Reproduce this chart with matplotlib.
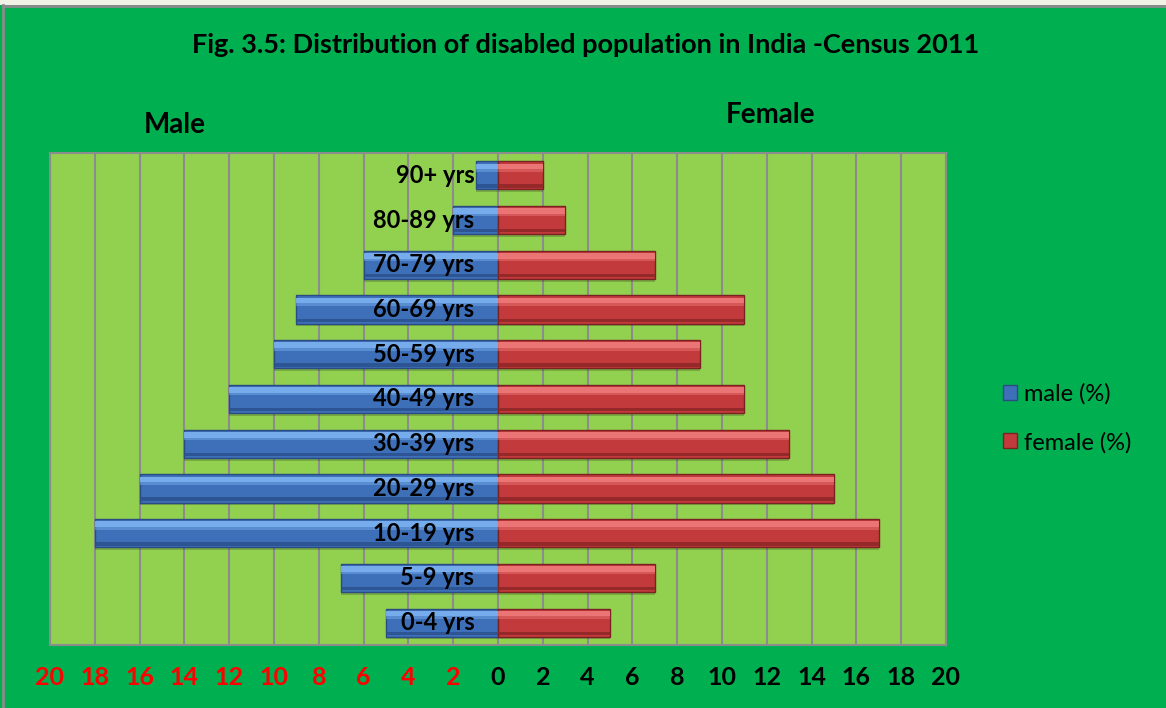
import numpy as np
import matplotlib
matplotlib.use("Agg")
import matplotlib.pyplot as plt
from matplotlib.patches import Rectangle, Patch
from matplotlib.lines import Line2D

plt.rcParams['font.family'] = ['Lato', 'DejaVu Sans']

ages = ['0-4 yrs', '5-9 yrs', '10-19 yrs', '20-29 yrs', '30-39 yrs', '40-49 yrs',
        '50-59 yrs', '60-69 yrs', '70-79 yrs', '80-89 yrs', '90+ yrs']
male = [5, 7, 18, 16, 14, 12, 10, 9, 6, 2, 1]
female = [5, 7, 17, 15, 13, 11, 9, 11, 7, 3, 2]
ticks = list(range(-20, 21, 2))
tick_labels = [str(abs(t)) for t in ticks]

W, H = 1166, 708
fig = plt.figure(figsize=(W / 100, H / 100), dpi=100)
fig.patch.set_facecolor('#00B050')

# top light strip and border
fig.patches.append(Rectangle((0, 1 - 5 / H), 1, 5 / H, transform=fig.transFigure,
                             facecolor='#EFF2E4', edgecolor='none', zorder=0))
fig.add_artist(Line2D([3 / W, 3 / W], [0, 1 - 5 / H], transform=fig.transFigure,
                      color='#8C8C8C', lw=2))
fig.add_artist(Line2D([3 / W, 1], [1 - 6 / H, 1 - 6 / H], transform=fig.transFigure,
                      color='#8C8C8C', lw=2))

ax = fig.add_axes([50 / W, (H - 645) / H, (946 - 50) / W, (645 - 153) / H])
ax.set_facecolor('#92D050')

y = np.arange(len(ages))
h = 0.63
mneg = -np.array(male)
fem = np.array(female)

# shadows
ax.barh(y - 0.06, mneg, height=h, color='black', alpha=0.18, zorder=2)
ax.barh(y - 0.06, fem, height=h, color='black', alpha=0.18, zorder=2)

blue = dict(base='#3D70B8', light='#7DB2F2', dark='#2A4F8A', edge='#2B4C82')
red = dict(base='#C23A3C', light='#F07B7B', dark='#8A2526', edge='#7A2222')

for vals, c in ((mneg, blue), (fem, red)):
    ax.barh(y, vals, height=h, color=c['base'], edgecolor=c['edge'], lw=1.0, zorder=3)
    ax.barh(y + h * 0.32, vals, height=h * 0.2, color=c['light'], lw=0, zorder=4, alpha=0.9)
    ax.barh(y + h * 0.18, vals, height=h * 0.1, color=c['light'], lw=0, zorder=4, alpha=0.45)
    ax.barh(y - h * 0.38, vals, height=h * 0.12, color=c['dark'], lw=0, zorder=4, alpha=0.8)

for yi, lab in zip(y, ages):
    ax.text(-1.05, yi, lab, ha='right', va='center', fontsize=17,
            fontweight='bold', color='black', zorder=6)

ax.set_xlim(-20, 20)
ax.set_ylim(-0.5, len(ages) - 0.5)
ax.set_xticks(ticks)
ax.set_xticklabels(tick_labels, fontsize=18, fontweight='bold')
for t, lab in zip(ticks, ax.get_xticklabels()):
    lab.set_color('#FF0000' if t < 0 else 'black')
ax.tick_params(axis='x', length=0, pad=15)
ax.set_yticks([])
ax.grid(axis='x', color='#8C8C8C', lw=1.5, zorder=1)
ax.set_axisbelow(True)
for s in ax.spines.values():
    s.set_color('#8C8C8C')
    s.set_linewidth(1.5)

fig.text(586 / W, 1 - 45 / H, 'Fig. 3.5: Distribution of disabled population in India -Census 2011',
         ha='center', va='center', fontsize=19.5, fontweight='bold')
fig.text(175 / W, 1 - 125 / H, 'Male', ha='center', va='center', fontsize=20, fontweight='bold')
fig.text(770 / W, 1 - 115 / H, 'Female', ha='center', va='center', fontsize=20, fontweight='bold')

handles = [Patch(facecolor=blue['base'], edgecolor=blue['edge']),
           Patch(facecolor=red['base'], edgecolor=red['edge'])]
fig.legend(handles, ['male (%)', 'female (%)'], loc='center left',
           bbox_to_anchor=(982 / W, 1 - 418 / H), frameon=False, fontsize=17,
           handlelength=0.6, handleheight=0.6, handletextpad=0.3, labelspacing=1.15)

fig.savefig('out.png', dpi=100, facecolor=fig.get_facecolor())
